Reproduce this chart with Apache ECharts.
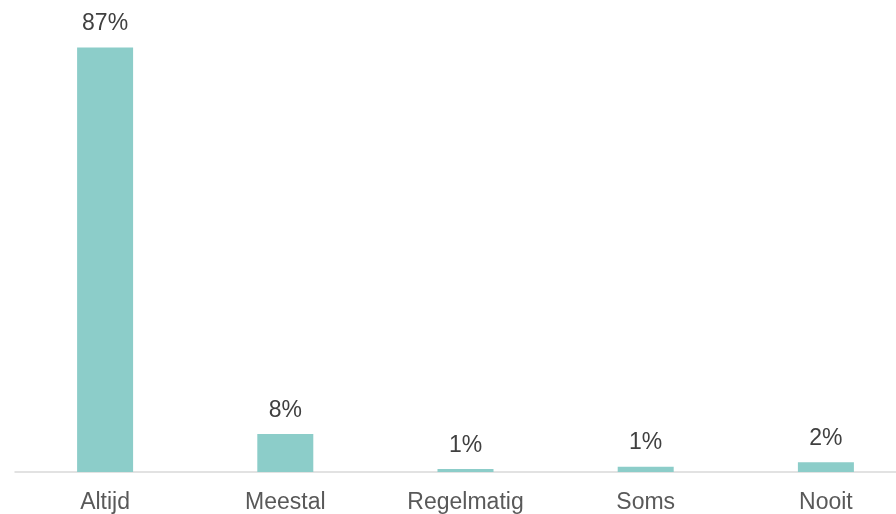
<!DOCTYPE html>
<html>
<head>
<meta charset="utf-8">
<script src="https://cdn.jsdelivr.net/npm/echarts@6/dist/echarts.min.js"></script>
<style>html,body{margin:0;padding:0;background:#fff;overflow:hidden}#c{width:920px;height:514px}</style>
</head>
<body>
<div id="c"></div>
<script>
const categories = ['Altijd', 'Meestal', 'Regelmatig', 'Soms', 'Nooit'];
const values = [87.1, 7.8, 0.6, 1.1, 2.0];

const chart = echarts.init(document.getElementById('c'));
chart.setOption({
  animation: false,
  grid: { left: 15, top: 33.4, right: 4, bottom: 41, containLabel: false },
  xAxis: {
    type: 'category',
    data: categories,
    axisLine: { lineStyle: { color: '#d9d9d9', width: 1.5 } },
    axisTick: { show: false },
    axisLabel: { color: '#595959', fontSize: 23, fontFamily: '"Liberation Sans", Arial, sans-serif', margin: 19, interval: 0 }
  },
  yAxis: { type: 'value', min: 0, max: 90, show: false, splitLine: { show: false } },
  series: [{
    type: 'bar',
    data: values,
    barWidth: 56,
    itemStyle: { color: '#8ccdc9' },
    label: {
      show: true,
      position: 'top',
      distance: 12,
      color: '#404040',
      fontSize: 23,
      fontFamily: '"Liberation Sans", Arial, sans-serif',
      formatter: p => Math.round(p.value) + '%'
    }
  }]
});
</script>
</body>
</html>
